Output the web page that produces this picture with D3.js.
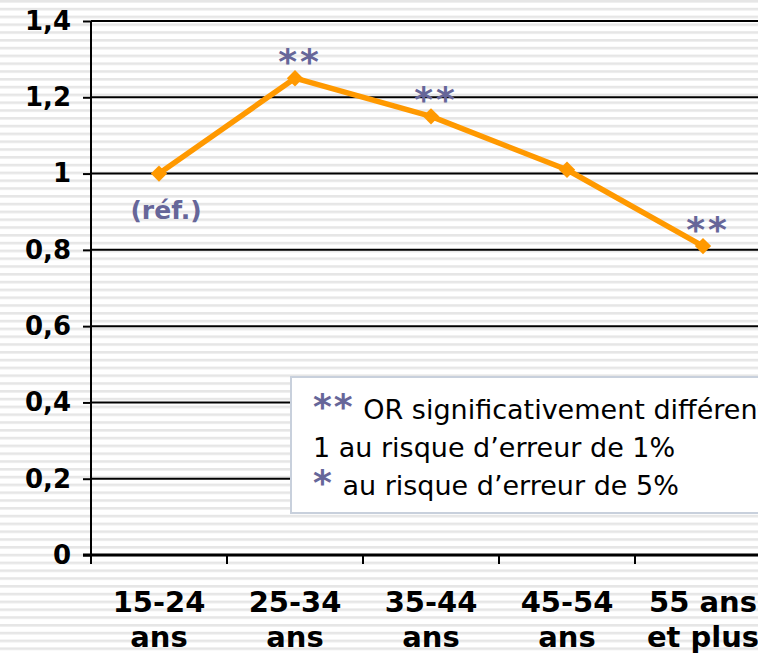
<!DOCTYPE html>
<html>
<head>
<meta charset="utf-8">
<script src="https://cdn.jsdelivr.net/npm/d3@7"></script>
<style>
  body { margin: 0; background: #fff; }
  svg { display: block; }
</style>
</head>
<body>
<div id="chart"></div>
<script>
var svgWidth = 758;
var svgHeight = 655;

// Data
var categories = ["15-24|ans", "25-34|ans", "35-44|ans", "45-54|ans", "55 ans|et plus"];
var orValues = [1.0, 1.25, 1.15, 1.01, 0.81];
var signif = ["", "**", "**", "", "**"];
var yTicks = [0, 0.2, 0.4, 0.6, 0.8, 1, 1.2, 1.4];
var legendLines = [
  { star: "**", text: " OR significativement différent de" },
  { star: "", text: "1 au risque d\u2019erreur de 1%" },
  { star: "*", text: " au risque d\u2019erreur de 5%" }
];

var margin = { top: 21, left: 91, bottom: 100 };
var plotRight = 771;
var height = svgHeight - margin.top - margin.bottom;

var svg = d3.select("#chart")
  .append("svg")
  .attr("width", svgWidth)
  .attr("height", svgHeight);

// striped background
var defs = svg.append("defs");
var pat = defs.append("pattern")
  .attr("id", "stripes")
  .attr("patternUnits", "userSpaceOnUse")
  .attr("width", 8)
  .attr("height", 7.8);
pat.append("rect").attr("width", 8).attr("height", 7.8).attr("fill", "#ffffff");
pat.append("rect").attr("y", 0).attr("width", 8).attr("height", 2.6).attr("fill", "#e6e6e6");

svg.append("rect")
  .attr("width", svgWidth)
  .attr("height", svgHeight)
  .attr("fill", "url(#stripes)");

var chartGroup = svg.append("g")
  .attr("transform", `translate(${margin.left}, ${margin.top})`);

var xScale = d3.scaleBand()
  .domain(categories)
  .range([0, plotRight - margin.left]);

var yScale = d3.scaleLinear()
  .domain([0, 1.4])
  .range([height, 0]);

// gridlines
chartGroup.append("g")
  .selectAll("line")
  .data(yTicks.filter(d => d > 0))
  .enter()
  .append("line")
  .attr("x1", 0)
  .attr("x2", plotRight - margin.left)
  .attr("y1", d => yScale(d))
  .attr("y2", d => yScale(d))
  .attr("stroke", "#000")
  .attr("stroke-width", 2);

// y axis
var yAxis = d3.axisLeft(yScale)
  .tickValues(yTicks)
  .tickSize(8)
  .tickPadding(12)
  .tickFormat(d => d3.format("")(d).replace(".", ","));

var yG = chartGroup.append("g").call(yAxis);
yG.select(".domain").attr("stroke-width", 2).attr("d", `M0,${height}V0`);
yG.selectAll(".tick line").attr("stroke-width", 2);
yG.selectAll(".tick text")
  .attr("font-family", "DejaVu Sans")
  .attr("font-weight", "bold")
  .attr("font-size", 26)
  .attr("fill", "#000");

// x axis
var xAxis = d3.axisBottom(xScale).tickSize(0).tickFormat("");
var xG = chartGroup.append("g")
  .attr("transform", `translate(0, ${height})`)
  .call(xAxis);
xG.select(".domain").attr("stroke-width", 3).attr("d", `M-8,0H${plotRight - margin.left}`);

// category boundary ticks
chartGroup.append("g")
  .selectAll("line")
  .data(categories)
  .enter()
  .append("line")
  .attr("x1", d => xScale(d))
  .attr("x2", d => xScale(d))
  .attr("y1", height)
  .attr("y2", height + 9)
  .attr("stroke", "#000")
  .attr("stroke-width", 2);

// x labels
var xLabels = chartGroup.append("g")
  .selectAll("text")
  .data(categories)
  .enter()
  .append("text")
  .attr("x", d => xScale(d) + xScale.bandwidth() / 2)
  .attr("y", height + 57)
  .attr("text-anchor", "middle")
  .attr("font-family", "DejaVu Sans")
  .attr("font-weight", "bold")
  .attr("font-size", 29)
  .attr("fill", "#000");

xLabels.selectAll("tspan")
  .data(d => d.split("|").map(t => ({ t: t, cx: xScale(d) + xScale.bandwidth() / 2 })))
  .enter()
  .append("tspan")
  .attr("x", d => d.cx)
  .attr("dy", (d, i) => i === 0 ? 0 : 35)
  .text(d => d.t);

// line
var line = d3.line()
  .x((d, i) => xScale(categories[i]) + xScale.bandwidth() / 2)
  .y(d => yScale(d));

chartGroup.append("path")
  .datum(orValues)
  .attr("d", line)
  .attr("fill", "none")
  .attr("stroke", "#ff9900")
  .attr("stroke-width", 5.5)
  .attr("stroke-linejoin", "round");

chartGroup.selectAll(".marker")
  .data(orValues)
  .enter()
  .append("path")
  .attr("class", "marker")
  .attr("d", d3.symbol().type(d3.symbolDiamond2).size(170))
  .attr("transform", (d, i) => `translate(${xScale(categories[i]) + xScale.bandwidth() / 2}, ${yScale(d)})`)
  .attr("fill", "#ff9900");

// significance stars
chartGroup.selectAll(".stars")
  .data(orValues)
  .enter()
  .append("text")
  .attr("class", "stars")
  .attr("x", (d, i) => xScale(categories[i]) + xScale.bandwidth() / 2 + 5)
  .attr("y", d => yScale(d) - 4)
  .attr("text-anchor", "middle")
  .attr("font-family", "DejaVu Sans")
  .attr("font-weight", "bold")
  .attr("letter-spacing", 3)
  .attr("font-size", 36)
  .attr("fill", "#666699")
  .text((d, i) => signif[i]);

// reference label
chartGroup.append("text")
  .attr("x", xScale(categories[0]) + xScale.bandwidth() / 2 + 7)
  .attr("y", yScale(orValues[0]) + 45)
  .attr("text-anchor", "middle")
  .attr("font-family", "DejaVu Sans")
  .attr("font-weight", "bold")
  .attr("font-size", 25)
  .attr("fill", "#666699")
  .text("(réf.)");

// legend box
var legend = svg.append("g");
legend.append("rect")
  .attr("x", 291)
  .attr("y", 377)
  .attr("width", 520)
  .attr("height", 136)
  .attr("fill", "#fff")
  .attr("stroke", "#c8d0dc")
  .attr("stroke-width", 2);

var legText = legend.selectAll("text")
  .data(legendLines)
  .enter()
  .append("text")
  .attr("x", 313)
  .attr("y", (d, i) => 419 + i * 38)
  .attr("font-family", "DejaVu Sans")
  .attr("font-size", 27)
  .attr("fill", "#000");

legText.append("tspan")
  .attr("fill", "#666699")
  .attr("font-weight", "bold")
  .attr("letter-spacing", 2)
  .attr("font-size", 36)
  .text(d => d.star);
legText.append("tspan")
  .text(d => d.text);
</script>
</body>
</html>
